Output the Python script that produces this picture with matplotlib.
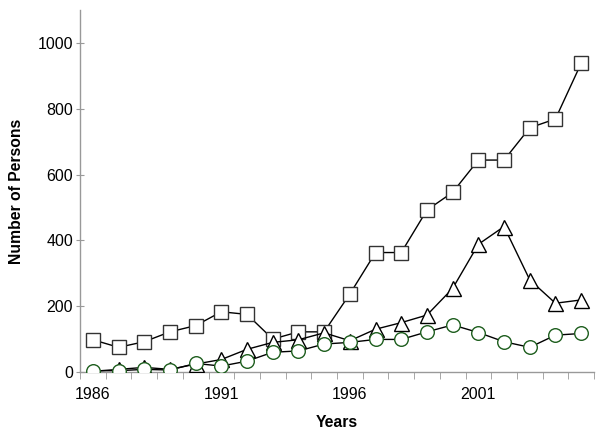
import matplotlib
matplotlib.use('Agg')
import matplotlib.pyplot as plt
from matplotlib.ticker import FixedLocator

plt.rcParams['font.family'] = ['Liberation Sans', 'DejaVu Sans']

years = list(range(1986, 2006))
squares = [98, 75, 92, 122, 141, 183, 175, 100, 122, 122,
           237, 363, 363, 492, 546, 644, 644, 742, 769, 938]
triangles = [2, 8, 14, 8, 24, 38, 69, 90, 98, 119,
             95, 130, 150, 173, 254, 388, 442, 280, 209, 219]
circles = [4, 4, 8, 6, 26, 18, 33, 60, 64, 85,
           90, 99, 99, 122, 143, 120, 92, 75, 112, 117]
xtick_labels = ['1986', '1991', '1996', '2001']

fig = plt.figure(figsize=(6, 4.38), dpi=100)
ax = fig.add_axes([80 / 600, 66 / 438, 514 / 600, 362 / 438])

ms = 9.8
ax.plot(years, squares, color='black', lw=1, marker='s', ms=ms,
        mfc='white', mec='#333333', mew=1, zorder=3)
ax.plot(years, triangles, color='black', lw=1, marker='^', ms=ms + 1,
        mfc='white', mec='black', mew=1, zorder=4)
ax.plot(years, circles, color='black', lw=1, marker='o', ms=ms,
        mfc='white', mec='#1e5e1e', mew=1, zorder=5)

ax.set_xlim(1985.5, 2005.5)
ax.set_ylim(0, 1100)
ax.set_xticks([int(s) for s in xtick_labels])
ax.set_xticklabels(xtick_labels)
ax.tick_params(axis='x', length=0, labelsize=11.5, pad=11)
ax.xaxis.set_minor_locator(FixedLocator([y + 0.5 for y in range(1985, 2006)]))
ax.tick_params(axis='x', which='minor', length=5, color='#999999', direction='out')
ax.set_yticks([0, 200, 400, 600, 800, 1000])
ax.tick_params(axis='y', length=6, direction='inout', color='#999999', labelsize=11.5, pad=2)

for side in ['top', 'right']:
    ax.spines[side].set_visible(False)
for side in ['left', 'bottom']:
    ax.spines[side].set_color('#999999')
    ax.spines[side].set_linewidth(1)

ax.set_xlabel('Years', fontweight='bold', fontsize=11.3, labelpad=9)
ax.set_ylabel('Number of Persons', fontweight='bold', fontsize=11.3, labelpad=10)

fig.savefig('out.png', dpi=100)
